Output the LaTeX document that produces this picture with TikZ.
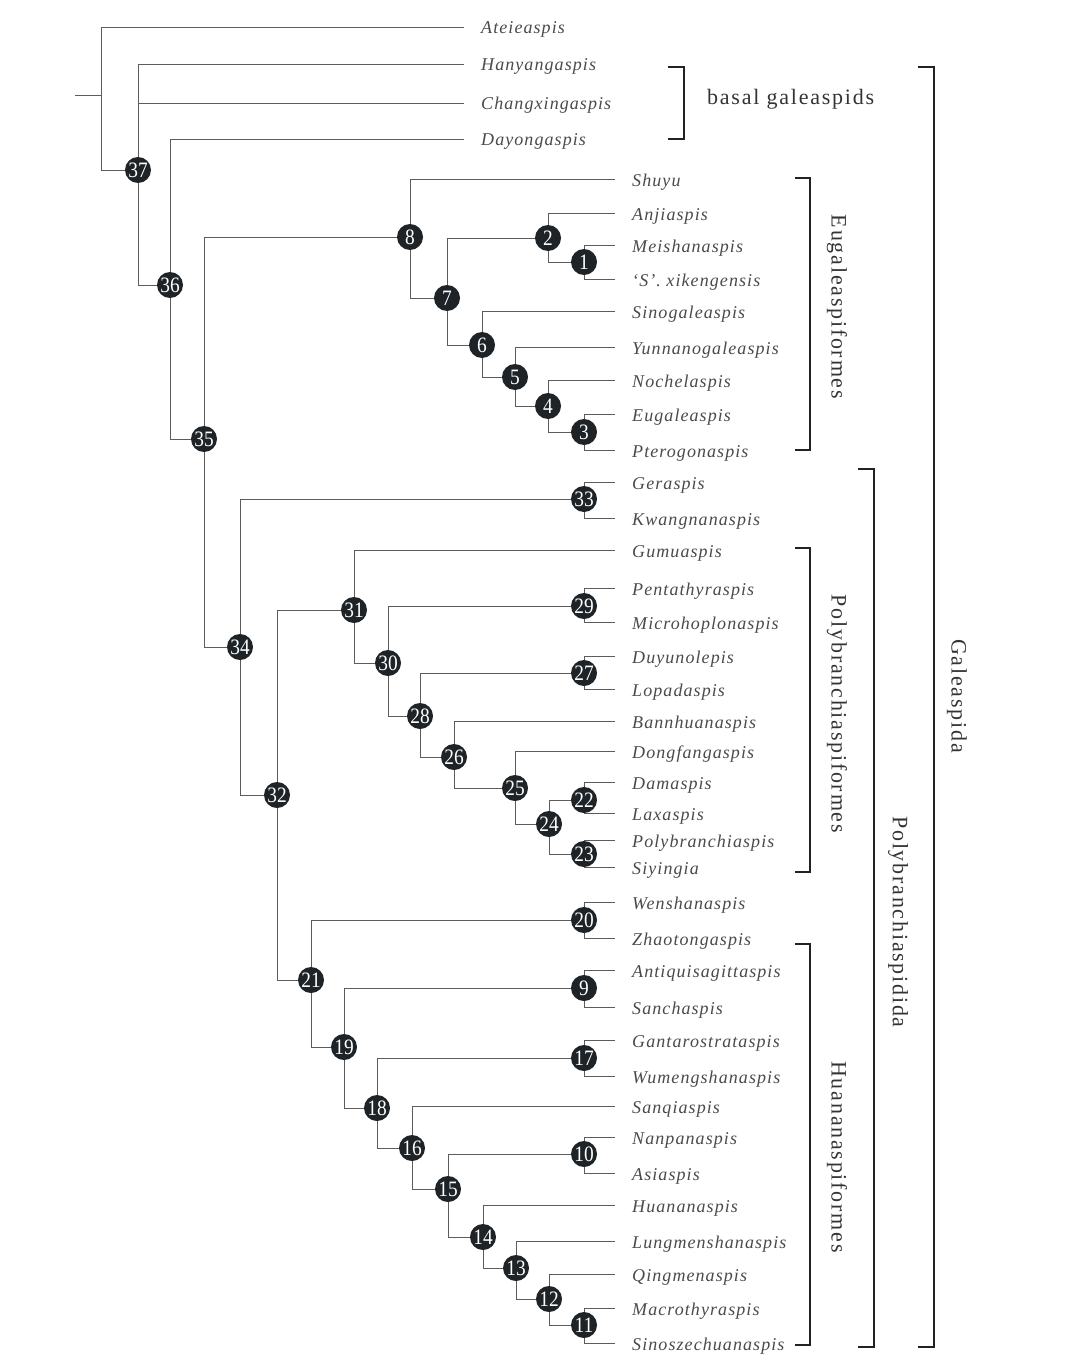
\documentclass[tikz,border=0pt]{standalone}
\usepackage{fontspec}
\setmainfont{Liberation Serif}
\newfontfamily\taxfont[LetterSpace=6]{Liberation Serif}
\newfontfamily\grpfont[LetterSpace=8]{Liberation Serif}
\newfontfamily\numfont[FakeStretch=0.88]{Liberation Serif}
\usetikzlibrary{backgrounds}
\definecolor{branchgray}{HTML}{5C5C5C}
\definecolor{taxgray}{HTML}{4A4A4A}
\definecolor{groupgray}{HTML}{333333}
\definecolor{cladedark}{HTML}{1E2327}
\definecolor{bracketdark}{HTML}{222222}
\tikzset{
    clade/.style={circle, fill=cladedark, text=white, minimum size=26pt, inner sep=0pt,
        font=\numfont\fontsize{22}{22}\selectfont},
    taxon/.style={anchor=west, inner sep=0pt, text height=14pt, text depth=0pt, text=taxgray,
        font=\taxfont\itshape\fontsize{18}{20}\selectfont},
    branch/.style={draw=branchgray, line width=0.9pt},
    twig/.style={branch, shorten >=17pt},
    bracket/.style={draw=bracketdark, line width=1.8pt},
    group/.style={text=groupgray, inner sep=0pt, font=\grpfont\fontsize{22}{24}\selectfont}
}
\begin{document}
\begin{tikzpicture}[x=1pt, y=-1pt]
    \useasboundingbox (0,0) rectangle (1084,1367);
    \coordinate (stub) at (75,95);
    \coordinate (root) at (101,95);
    \foreach \n/\y/\t in {atei/27/Ateieaspis, hany/64/Hanyangaspis, chang/103/Changxingaspis, dayong/139/Dayongaspis}
        \node[taxon] (\n) at (481,\y) {\t};
    \foreach \n/\y/\t in {shuyu/179/Shuyu, anji/213/Anjiaspis, meishan/245/Meishanaspis, xikeng/279/{‘S’. xikengensis},
        sinogal/311/Sinogaleaspis, yunnan/347/Yunnanogaleaspis, nochel/380/Nochelaspis, eugal/414/Eugaleaspis,
        pterog/450/Pterogonaspis, gerasp/482/Geraspis, kwang/518/Kwangnanaspis, gumu/550/Gumuaspis,
        pentat/588/Pentathyraspis, microh/622/Microhoplonaspis, duyun/656/Duyunolepis, lopad/689/Lopadaspis,
        bannh/721/Bannhuanaspis, dongf/751/Dongfangaspis, damas/782/Damaspis, laxas/813/Laxaspis,
        polyb/840/Polybranchiaspis, siying/867/Siyingia, wensh/902/Wenshanaspis, zhaot/938/Zhaotongaspis,
        antiq/970/Antiquisagittaspis, sanch/1007/Sanchaspis, gantar/1040/Gantarostrataspis, wumeng/1076/Wumengshanaspis,
        sanqi/1106/Sanqiaspis, nanpan/1137/Nanpanaspis, asias/1173/Asiaspis, huanan/1205/Huananaspis,
        lungm/1241/Lungmenshanaspis, qingm/1274/Qingmenaspis, macrot/1308/Macrothyraspis, sinosz/1343/Sinoszechuanaspis}
        \node[taxon] (\n) at (632,\y) {\t};
    \foreach \n/\x/\y in {37/138/170, 36/170/285, 35/204/439, 8/410/237, 7/447/298, 2/548/238, 1/584/262,
        6/482/345, 5/515/377, 4/548/406, 3/584/432, 34/240/647, 33/584/499, 32/277/795, 31/354/610,
        30/388/663, 29/584/606, 28/420/716, 27/584/673, 26/454/757, 25/515/788, 24/549/824, 22/584/800,
        23/584/854, 21/311/980, 20/584/920, 19/344/1047, 9/584/988, 18/377/1108, 17/584/1058,
        16/412/1148, 15/448/1189, 10/584/1154, 14/483/1237, 13/516/1268, 12/549/1299, 11/584/1325}
        \node[clade] (n\n) at (\x,\y) {\n};
    \begin{pgfonlayer}{background}
        \draw[branch] (stub) -- (root);
        \foreach \a/\b in {root/n37, n37/n36, n36/n35, n35/n8, n35/n34, n8/n7, n7/n2, n7/n6, n2/n1, n6/n5,
            n5/n4, n4/n3, n34/n33, n34/n32, n32/n31, n32/n21, n31/n30, n30/n29, n30/n28, n28/n27, n28/n26,
            n26/n25, n25/n24, n24/n22, n24/n23, n21/n20, n21/n19, n19/n9, n19/n18, n18/n17, n18/n16,
            n16/n15, n15/n10, n15/n14, n14/n13, n13/n12, n12/n11}
            \draw[branch] (\a) |- (\b);
        \foreach \a/\b in {root/atei, n37/hany, n37/chang, n36/dayong, n8/shuyu, n2/anji, n1/meishan,
            n1/xikeng, n6/sinogal, n5/yunnan, n4/nochel, n3/eugal, n3/pterog, n33/gerasp, n33/kwang,
            n31/gumu, n29/pentat, n29/microh, n27/duyun, n27/lopad, n26/bannh, n25/dongf, n22/damas,
            n22/laxas, n23/polyb, n23/siying, n20/wensh, n20/zhaot, n9/antiq, n9/sanch, n17/gantar,
            n17/wumeng, n16/sanqi, n10/nanpan, n10/asias, n14/huanan, n13/lungm, n12/qingm, n11/macrot,
            n11/sinosz}
            \draw[twig] (\a) |- (\b);
    \end{pgfonlayer}
    \draw[bracket] (668,67) -| (684,139) -- (668,139);
    \draw[bracket] (795,178) -| (810,450) -- (795,450);
    \draw[bracket] (795,548) -| (810,872) -- (795,872);
    \draw[bracket] (795,944) -| (810,1345) -- (795,1345);
    \draw[bracket] (858,469) -| (874,1347) -- (858,1347);
    \draw[bracket] (918,67) -| (934,1347) -- (918,1347);
    \node[group, anchor=west] (basal) at (707,99) {basal galeaspids};
    \node[group, rotate=-90] (eugalf) at (837,307) {Eugaleaspiformes};
    \node[group, rotate=-90] (polyf) at (837,714) {Polybranchiaspiformes};
    \node[group, rotate=-90] (huananf) at (837,1157) {Huananaspiformes};
    \node[group, rotate=-90] (polyd) at (898,922) {Polybranchiaspidida};
    \node[group, rotate=-90] (galea) at (957,696) {Galeaspida};
\end{tikzpicture}
\end{document}
